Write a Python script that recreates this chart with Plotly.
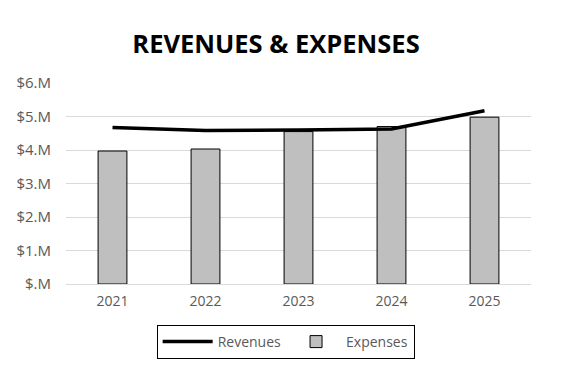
import plotly.graph_objects as go

years = ["2021", "2022", "2023", "2024", "2025"]
revenues = [4.67, 4.58, 4.60, 4.63, 5.17]  # $M
expenses = [3.97, 4.03, 4.55, 4.70, 4.98]  # $M
tick_vals = [0, 1, 2, 3, 4, 5, 6]
tick_text = ["$.M", "$1.M", "$2.M", "$3.M", "$4.M", "$5.M", "$6.M"]

OFF = 8  # browser body margin

fig = go.Figure()
fig.add_trace(go.Bar(
    x=years, y=expenses, name="Expenses",
    marker=dict(color="#BFBFBF", line=dict(color="black", width=1)),
    width=0.31, legendrank=2,
))
fig.add_trace(go.Scatter(
    x=years, y=revenues, name="Revenues", mode="lines",
    line=dict(color="black", width=3.5), legendrank=1,
))

fig.update_layout(
    width=561, height=384,
    paper_bgcolor="white", plot_bgcolor="white",
    margin=dict(l=66 - OFF, r=30 + OFF, t=83 - OFF, b=100 + OFF, autoexpand=False),
    font=dict(family="Open Sans, Calibri, sans-serif", color="#595959", size=14),
    title=dict(text="<b>REVENUES &amp; EXPENSES</b>", x=(276 - OFF) / 561, xanchor="center",
               xref="container", yref="container",
               y=1 - (44 - OFF) / 384, yanchor="middle",
               font=dict(size=25.5, color="black", family="Open Sans, sans-serif")),
    showlegend=True,
    legend=dict(orientation="h", x=(273 - OFF) / 561, xanchor="center",
                yref="container", y=1 - (325 - OFF) / 384, yanchor="top",
                bordercolor="black", borderwidth=1, bgcolor="white",
                font=dict(size=14, color="#595959"), itemwidth=50,
                tracegroupgap=0),
    bargap=0.69,
)
fig.update_xaxes(showgrid=False, showline=True, linecolor="#D9D9D9", linewidth=1,
                 ticks="", automargin=False, ticklabelstandoff=4,
                 tickfont=dict(size=14, color="#595959"))
fig.update_yaxes(range=[0, 6], tickvals=tick_vals, ticktext=tick_text,
                 showgrid=True, gridcolor="#D9D9D9", gridwidth=1, zeroline=False,
                 showline=False, ticks="", ticklabelstandoff=14, automargin=False,
                 tickfont=dict(size=15, color="#595959"))

fig.write_html("out.html")
